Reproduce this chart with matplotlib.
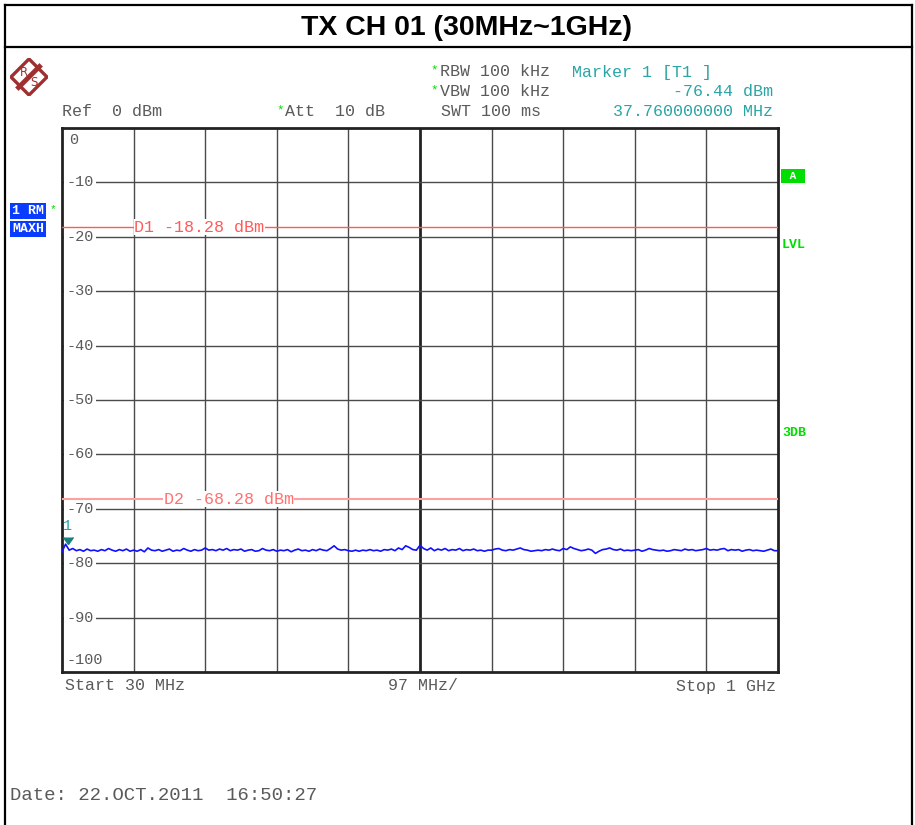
import numpy as np
import matplotlib
matplotlib.use('Agg')
import matplotlib.pyplot as plt
from matplotlib.lines import Line2D
from matplotlib.patches import Polygon

W, H = 915, 825

# sweep settings
START_MHZ = 30
STOP_MHZ = 1000
REF_DBM = 0
D1_DBM = -18.28
D2_DBM = -68.28
MK_FREQ = 37.76
MK_DBM = -76.44

ytick_vals = [0, -10, -20, -30, -40, -50, -60, -70, -80, -90, -100]

# max-hold trace (dBm)
trace_dbm = [
    -77.9, -76.5, -77.6, -77.3, -77.7, -77.5, -77.8, -77.4, -77.7, -77.6,
    -77.8, -77.5, -77.7, -77.3, -77.6, -77.8, -77.5, -77.7, -77.4, -77.8,
    -77.6, -77.8, -77.5, -77.9, -77.2, -77.6, -77.7, -77.5, -77.8, -77.6,
    -77.4, -77.8, -77.6, -77.7, -77.3, -77.6, -77.8, -77.5, -77.7, -77.6,
    -77.2, -77.6, -77.5, -77.7, -77.4, -77.6, -77.3, -77.7, -77.5, -77.6,
    -77.4, -77.8, -77.6, -77.5, -77.8, -77.7, -77.3, -77.6, -77.7, -77.5,
    -77.8, -77.6, -77.7, -77.5, -77.9, -77.6, -77.4, -77.7, -77.6, -77.8,
    -77.5, -77.7, -77.4, -77.6, -77.7, -77.3, -76.8, -77.4, -77.6, -77.5,
    -77.7, -77.8, -77.6, -77.8, -77.6, -77.7, -77.5, -77.7, -77.6, -77.8,
    -77.5, -77.6, -77.4, -77.7, -77.2, -77.5, -76.8, -77.1, -77.5, -77.6,
    -76.7, -77.3, -77.6, -77.2, -77.7, -77.4, -77.6, -77.3, -77.7, -77.5,
    -77.6, -77.3, -77.7, -77.5, -77.6, -77.4, -77.7, -77.6, -77.8, -77.6,
    -77.6, -77.4, -77.3, -77.6, -77.7, -77.5, -77.6, -77.4, -77.2, -77.5,
    -77.6, -77.8, -77.7, -77.6, -77.7, -77.5, -77.6, -77.4, -77.6, -77.7,
    -77.3, -77.5, -77.0, -77.3, -77.5, -77.7, -77.6, -77.4, -77.6, -78.2,
    -77.8, -77.5, -77.4, -77.2, -77.5, -77.6, -77.4, -77.7, -77.6, -77.7,
    -77.6, -77.5, -77.8, -77.6, -77.3, -77.5, -77.6, -77.7, -77.6, -77.8,
    -77.7, -77.5, -77.6, -77.7, -77.4, -77.6, -77.5, -77.7, -77.6, -77.5,
    -77.3, -77.6, -77.5, -77.6, -77.4, -77.3, -77.7, -77.5, -77.6, -77.5,
    -77.8, -77.6, -77.5, -77.7, -77.6, -77.7, -77.8, -77.6, -77.4, -77.7,
    -77.7,
]

freq = np.linspace(START_MHZ, STOP_MHZ, len(trace_dbm))

MONO = 'Liberation Mono'
GRAY = '#5a5a5a'
TEAL = '#2aa5a5'
GREEN = '#00dd00'
FS = 12


def fx(px):
    return px / W


def fy(py):
    return 1 - py / H


fig = plt.figure(figsize=(W / 100, H / 100), dpi=100)

# outer frame + title row
for xs, ys in [((5, 912), (5, 5)), ((5, 5), (5, 825)), ((912, 912), (5, 825)),
               ((5, 912), (47, 47))]:
    fig.add_artist(Line2D([fx(xs[0]), fx(xs[1])], [fy(ys[0]), fy(ys[1])],
                          color='black', lw=1.6))
fig.text(fx(467), fy(28), 'TX CH 01 (30MHz~1GHz)', ha='center', va='center',
         fontsize=20.5, fontweight='bold', family='Liberation Sans')

# R&S logo
lax = fig.add_axes([fx(10), fy(96), fx(38), 38 / H])
lax.set_xlim(-1, 1)
lax.set_ylim(-1, 1)
lax.axis('off')
lax.add_patch(Polygon([[0, 0.95], [0.95, 0], [0, -0.95], [-0.95, 0]], closed=True,
                      fill=False, ec='#a03030', lw=2.4))
lax.plot([-0.55, 0.55], [-0.55, 0.55], color='#a03030', lw=3.5)
lax.text(-0.28, 0.22, 'R', color='#a03030', fontsize=8.5, ha='center', va='center')
lax.text(0.28, -0.3, 'S', color='#a03030', fontsize=8.5, ha='center', va='center')

# header texts
hdr = dict(family=MONO, fontsize=FS, va='center')
star = dict(family=MONO, fontsize=9, va='center', color=GREEN)
fig.text(fx(62), fy(112), 'Ref  0 dBm', color=GRAY, **hdr)
fig.text(fx(276), fy(110), '*', **star)
fig.text(fx(285), fy(112), 'Att  10 dB', color=GRAY, **hdr)
fig.text(fx(430), fy(70), '*', **star)
fig.text(fx(440), fy(72), 'RBW 100 kHz', color=GRAY, **hdr)
fig.text(fx(430), fy(90), '*', **star)
fig.text(fx(440), fy(92), 'VBW 100 kHz', color=GRAY, **hdr)
fig.text(fx(441), fy(112), 'SWT 100 ms', color=GRAY, **hdr)
fig.text(fx(572), fy(72), 'Marker 1 [T1 ]', color=TEAL, **hdr)
fig.text(fx(773), fy(92), '%.2f dBm' % MK_DBM, color=TEAL, ha='right',
         family=MONO, fontsize=FS, va='center')
fig.text(fx(773), fy(112), '%.9f MHz' % MK_FREQ, color=TEAL, ha='right',
         family=MONO, fontsize=FS, va='center')

# left trace info boxes
box = dict(boxstyle='square,pad=0.15', fc='#0a3cff', ec='none')
fig.text(fx(12), fy(211), '1 RM', color='white', family=MONO, fontsize=9.5,
         fontweight='bold', va='center', bbox=box)
fig.text(fx(50), fy(209), '*', color=GREEN, family=MONO, fontsize=8, va='center')
fig.text(fx(12), fy(229), 'MAXH', color='white', family=MONO, fontsize=9.5,
         fontweight='bold', va='center', bbox=box)

# right side flags
fig.text(fx(783), fy(176), ' A ', color='white', family=MONO, fontsize=8,
         fontweight='bold', va='center',
         bbox=dict(boxstyle='square,pad=0.2', fc=GREEN, ec='none'))
fig.text(fx(782), fy(245), 'LVL', color=GREEN, family=MONO, fontsize=9.5,
         fontweight='bold', va='center')
fig.text(fx(782), fy(433), '3DB', color=GREEN, family=MONO, fontsize=9.5,
         fontweight='bold', va='center')

# main screen
ax = fig.add_axes([fx(62), fy(672), fx(778) - fx(62), (672 - 128) / H])
ax.set_xlim(START_MHZ, STOP_MHZ)
ax.set_ylim(-100, REF_DBM)
xgrid = np.linspace(START_MHZ, STOP_MHZ, 11)
for i, xv in enumerate(xgrid[1:-1]):
    ax.axvline(xv, color='#222222' if i == 4 else '#4a4a4a',
               lw=2 if i == 4 else 1, zorder=1)
for yv in ytick_vals[1:-1]:
    ax.axhline(yv, color='#4a4a4a', lw=1, zorder=1)
ax.set_xticks([])
ax.set_yticks([])
for s in ax.spines.values():
    s.set_linewidth(2)
    s.set_color('#222222')

# y labels drawn inside the screen
ytr = ax.get_yaxis_transform()
for yv in ytick_vals[1:-1]:
    ax.text(0.006, yv, '-%d' % abs(yv), transform=ytr, color=GRAY, family=MONO,
            fontsize=11, va='center', ha='left', zorder=2,
            bbox=dict(boxstyle='square,pad=0.12', fc='white', ec='none'))
ax.text(0.01, -2.2, '0', transform=ytr, color=GRAY, family=MONO, fontsize=11,
        va='center')
ax.text(0.006, -97.8, '-100', transform=ytr, color=GRAY, family=MONO,
        fontsize=11, va='center')

# display lines
ax.axhline(D1_DBM, color='#ff5a5a', lw=1, zorder=3)
ax.text(128, D1_DBM, 'D1 -18.28 dBm', color='#ff5a5a', family=MONO, fontsize=FS,
        va='center', zorder=4,
        bbox=dict(boxstyle='square,pad=0.03', fc='white', ec='none'))
ax.axhline(D2_DBM, color='#ffa0a0', lw=1.5, zorder=3)
ax.text(168, D2_DBM, 'D2 -68.28 dBm', color='#ff7070', family=MONO, fontsize=FS,
        va='center', zorder=4,
        bbox=dict(boxstyle='square,pad=0.03', fc='white', ec='none'))

# trace
ax.plot(freq, trace_dbm, color='#1010ff', lw=1.2, zorder=5)

# marker
ax.plot([MK_FREQ], [MK_DBM], marker=7, color='#1a7f7f', ms=7, zorder=6)
ax.text(MK_FREQ, -73.2, '1', color=TEAL, family=MONO, fontsize=11,
        ha='center', va='center', zorder=6)

# bottom labels
fig.text(fx(65), fy(686), 'Start 30 MHz', color=GRAY, family=MONO, fontsize=FS,
         va='center')
fig.text(fx(388), fy(686), '97 MHz/', color=GRAY, family=MONO, fontsize=FS,
         va='center')
fig.text(fx(776), fy(686), 'Stop 1 GHz', color=GRAY, family=MONO, fontsize=FS,
         va='center', ha='right')
fig.text(fx(10), fy(795), 'Date: 22.OCT.2011  16:50:27', color=GRAY,
         family=MONO, fontsize=13.7, va='center')

fig.savefig('out.png', dpi=100)
